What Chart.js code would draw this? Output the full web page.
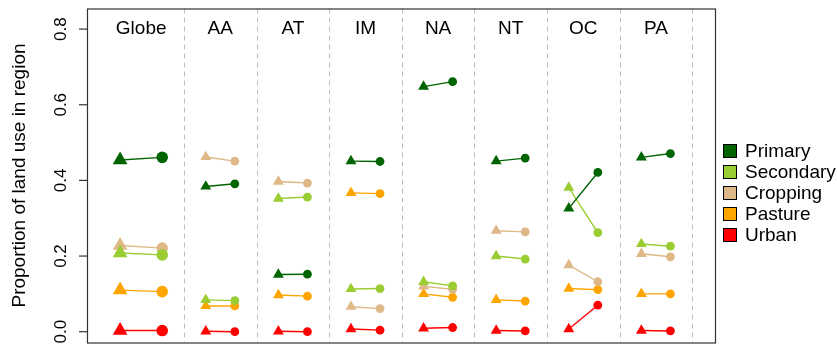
<!DOCTYPE html>
<html>
<head>
<meta charset="utf-8">
<script src="https://cdn.jsdelivr.net/npm/chart.js@4/dist/chart.umd.min.js"></script>
<style>
  html, body { margin: 0; padding: 0; background: #fff; }
  canvas { display: block; }
</style>
</head>
<body>
<canvas id="landChart" width="837" height="351"></canvas>
<script>
// ================== Data ==================
const regions = ["Globe", "AA", "AT", "IM", "NA", "NT", "OC", "PA"];
const landUses = ["Primary", "Secondary", "Cropping", "Pasture", "Urban"];
const yTicks = [0, 0.2, 0.4, 0.6, 0.8];

// triangle = before, circle = after (one value per region)
const primaryBefore   = [0.454, 0.384, 0.151, 0.451, 0.648, 0.451, 0.326, 0.461];
const primaryAfter    = [0.461, 0.391, 0.152, 0.450, 0.661, 0.459, 0.421, 0.471];
const secondaryBefore = [0.208, 0.084, 0.352, 0.113, 0.132, 0.200, 0.381, 0.232];
const secondaryAfter  = [0.203, 0.082, 0.356, 0.114, 0.121, 0.192, 0.262, 0.226];
const croppingBefore  = [0.228, 0.462, 0.397, 0.066, 0.120, 0.267, 0.176, 0.206];
const croppingAfter   = [0.221, 0.451, 0.393, 0.061, 0.112, 0.264, 0.132, 0.198];
const pastureBefore   = [0.110, 0.068, 0.097, 0.367, 0.100, 0.084, 0.114, 0.100];
const pastureAfter    = [0.106, 0.068, 0.094, 0.365, 0.091, 0.081, 0.111, 0.100];
const urbanBefore     = [0.003, 0.001, 0.001, 0.007, 0.009, 0.003, 0.007, 0.003];
const urbanAfter      = [0.003, 0.000, 0.000, 0.004, 0.011, 0.002, 0.070, 0.002];

const beforeValues = [primaryBefore, secondaryBefore, croppingBefore, pastureBefore, urbanBefore];
const afterValues  = [primaryAfter, secondaryAfter, croppingAfter, pastureAfter, urbanAfter];
const colors = ["#006400", "#9ACD32", "#DEB887", "#FFA500", "#FF0000"];

// ----- layout helpers (x in panel units) -----
function panelCenter(i) { return i === 0 ? 0.91 : i + 1; }
function panelOffset(i) { return i === 0 ? 0.29 : 0.2; }

const datasets = [];
landUses.forEach((lu, k) => {
  regions.forEach((reg, i) => {
    const big = i === 0;
    datasets.push({
      label: lu + " " + reg,
      data: [
        { x: panelCenter(i) - panelOffset(i), y: beforeValues[k][i] },
        { x: panelCenter(i) + panelOffset(i), y: afterValues[k][i] }
      ],
      showLine: true,
      borderColor: colors[k],
      backgroundColor: colors[k],
      borderWidth: 1.4,
      pointStyle: ["triangle", "circle"],
      pointRadius: big ? [8.5, 5.8] : [6.3, 4.4],
      pointBorderWidth: 0
    });
  });
});

const FONT = "'Liberation Sans', Arial, Helvetica, sans-serif";

const decorPlugin = {
  id: "decor",
  beforeDatasetsDraw(chart) {
    const { ctx, chartArea, scales } = chart;
    ctx.save();
    ctx.strokeStyle = "#bdbdbd";
    ctx.lineWidth = 1;
    ctx.setLineDash([5, 4]);
    for (let s = 1.5; s <= 8.5; s += 1) {
      const x = Math.round(scales.x.getPixelForValue(s)) + 0.5;
      ctx.beginPath();
      ctx.moveTo(x, chartArea.top);
      ctx.lineTo(x, chartArea.bottom);
      ctx.stroke();
    }
    ctx.restore();
  },
  afterDraw(chart) {
    const { ctx, chartArea, scales } = chart;
    ctx.save();
    // box
    ctx.strokeStyle = "#333";
    ctx.lineWidth = 1.2;
    ctx.strokeRect(chartArea.left + 0.5, chartArea.top + 0.5,
      chartArea.right - chartArea.left, chartArea.bottom - chartArea.top);

    // y ticks + labels (rotated, R style)
    ctx.fillStyle = "#000";
    ctx.font = "17px " + FONT;
    ctx.textAlign = "center";
    ctx.textBaseline = "middle";
    yTicks.forEach(v => {
      const y = scales.y.getPixelForValue(v);
      ctx.beginPath();
      ctx.moveTo(chartArea.left - 8, y);
      ctx.lineTo(chartArea.left, y);
      ctx.stroke();
      ctx.save();
      ctx.translate(61, y);
      ctx.rotate(-Math.PI / 2);
      ctx.fillText(v.toFixed(1), 0, 0);
      ctx.restore();
    });

    // axis title
    ctx.save();
    ctx.font = "19px " + FONT;
    ctx.translate(20, (chartArea.top + chartArea.bottom) / 2);
    ctx.rotate(-Math.PI / 2);
    ctx.fillText("Proportion of land use in region", 0, 0);
    ctx.restore();

    // region labels
    ctx.font = "19px " + FONT;
    const yLab = scales.y.getPixelForValue(0.8);
    regions.forEach((reg, i) => {
      ctx.fillText(reg, scales.x.getPixelForValue(panelCenter(i)), yLab);
    });

    // legend
    ctx.textAlign = "left";
    landUses.forEach((lu, k) => {
      const yc = 151 + k * 21;
      ctx.fillStyle = colors[k];
      ctx.fillRect(723, yc - 7, 14, 14);
      ctx.strokeStyle = "#000";
      ctx.lineWidth = 1;
      ctx.strokeRect(723.5, yc - 6.5, 13, 13);
      ctx.fillStyle = "#000";
      ctx.fillText(lu, 745, yc + 1);
    });
    ctx.restore();
  }
};

new Chart(document.getElementById("landChart").getContext("2d"), {
  type: "scatter",
  data: { datasets },
  options: {
    responsive: false,
    animation: false,
    layout: { padding: { left: 87, top: 8, right: 122, bottom: 3 } },
    plugins: { legend: { display: false }, tooltip: { enabled: false } },
    scales: {
      x: { type: "linear", min: 0.164, max: 8.814, display: false },
      y: { type: "linear", min: -0.0286, max: 0.8545, display: false }
    }
  },
  plugins: [decorPlugin]
});
</script>
</body>
</html>
